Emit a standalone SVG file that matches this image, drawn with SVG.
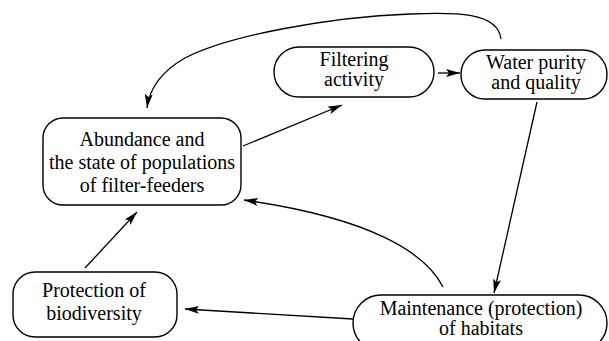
<svg xmlns="http://www.w3.org/2000/svg" width="609" height="341" viewBox="0 0 609 341">
<defs>
<style>
.box{fill:#fff;stroke:#000;stroke-width:1.4}
.lbl{font-family:'Liberation Serif','Times New Roman',Times,serif;font-size:20px;fill:#000;text-anchor:middle}
.edge{fill:none;stroke:#000;stroke-width:1.3;marker-end:url(#ah)}
</style>
<marker id="ah" viewBox="0 0 14 8" refX="14" refY="4" markerWidth="14" markerHeight="8" markerUnits="userSpaceOnUse" orient="auto">
<path d="M0,0 L14,4 L0,8 L3,4 z" fill="#000"/>
</marker>
</defs>
<rect width="609" height="341" fill="#fff"/>
<g id="connectors">
<path class="edge" d="M501,39 C498,12 455,12 410,14 C330,17 230,35 185,58 C157,74 149,92 147,108"/>
<path class="edge" d="M243,146 L342,105"/>
<path class="edge" d="M438,73 L460,73"/>
<path class="edge" d="M537,102 L494,293"/>
<path class="edge" d="M443,287 C425,252 370,218 244,200"/>
<path class="edge" d="M85,268 L137,212"/>
<path class="edge" d="M353,319 L185,309"/>
</g>
<g id="filtering">
<rect class="box" x="274" y="47" width="160" height="50" rx="25"/>
<text class="lbl" x="354" y="66"><tspan x="354" y="66">Filtering</tspan><tspan x="354" y="86">activity</tspan></text>
</g>
<g id="water">
<rect class="box" x="461" y="50" width="146" height="49" rx="24"/>
<text class="lbl" x="536" y="69"><tspan x="536" y="69">Water purity</tspan><tspan x="536" y="89">and quality</tspan></text>
</g>
<g id="abundance">
<rect class="box" x="43" y="118" width="198" height="87" rx="20"/>
<text class="lbl" x="142" y="146"><tspan x="142" y="146">Abundance and</tspan><tspan x="142" y="169">the state of populations</tspan><tspan x="142" y="192">of filter-feeders</tspan></text>
</g>
<g id="protection">
<rect class="box" x="13" y="272" width="164" height="65" rx="22"/>
<text class="lbl" x="94" y="297" font-size="21"><tspan x="94" y="297">Protection of</tspan><tspan x="94" y="320">biodiversity</tspan></text>
</g>
<g id="maintenance">
<rect class="box" x="353" y="295" width="254" height="56" rx="28"/>
<text class="lbl" x="481" y="315" font-size="21"><tspan x="481" y="315">Maintenance (protection)</tspan><tspan x="481" y="335">of habitats</tspan></text>
</g>
</svg>
